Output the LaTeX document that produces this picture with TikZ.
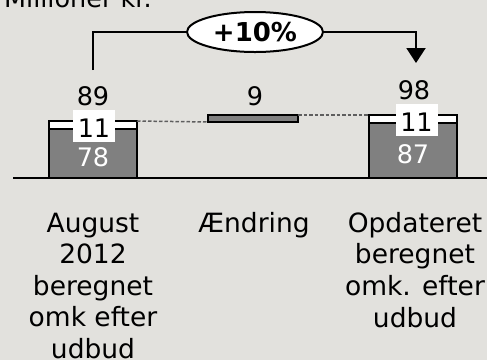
\documentclass[tikz,border=0pt]{standalone}
\usepackage{fontspec}
\setmainfont{DejaVu Sans}
\usetikzlibrary{arrows.meta,shapes.geometric}
\definecolor{bg}{HTML}{E2E1DD}
\definecolor{barg}{HTML}{808080}
\definecolor{dashg}{HTML}{5E5E5E}
\tikzset{
  lbl/.style={font=\fontsize{26.5}{31.6}\selectfont, inner sep=0pt, anchor=base, align=center},
  num/.style={font=\fontsize{25.5}{30}\selectfont, inner sep=0pt, anchor=base},
  barbox/.style={draw=black, line width=2pt, fill=barg, inner sep=0pt, outer sep=0pt},
  topbox/.style={draw=black, line width=2pt, fill=white, inner sep=0pt, outer sep=0pt},
  wlab/.style={fill=white, inner sep=0pt, minimum width=42, minimum height=32},
  conn/.style={line width=2pt, draw=black},
  dashln/.style={draw=dashg, line width=1.5pt, dash pattern=on 3.5pt off 2pt}
}
\begin{document}
\begin{tikzpicture}[x=1pt,y=-1pt]
\fill[bg] (0,0) rectangle (487,360);
\useasboundingbox (0,0) rectangle (487,360);
% title (cut off at top)
\node[num, anchor=base west] (title) at (4,7) {Millioner kr.};
% axis
\coordinate (ax1) at (13,178);
\coordinate (ax2) at (487,178);
\draw[line width=2pt] (ax1) -- (ax2);
% left bar
\node[barbox, minimum width=88, minimum height=49] (lg) at (93,153.5) {};
\node[topbox, minimum width=88, minimum height=8] (lw) at (93,125) {};
% middle bar
\node[barbox, minimum width=90, minimum height=7] (mid) at (253,118.5) {};
% right bar
\node[barbox, minimum width=88, minimum height=55] (rg) at (413,150.5) {};
\node[topbox, minimum width=88, minimum height=8] (rw) at (413,119) {};
% dashed connectors
\draw[dashln] (lw.north east) -- (mid.south west);
\draw[dashln] (mid.north east) -- (rw.north west);
% white label boxes
\node[wlab] (lb11) at (94,126) {};
\node[wlab] (rb11) at (416.5,120) {};
\node[num] (l11) at (94,137) {11};
\node[num] (r11) at (416.5,131) {11};
\node[num, text=white] (l78) at (93,166) {78};
\node[num, text=white] (r87) at (413,163) {87};
\node[num] (l89) at (93,105) {89};
\node[num] (m9) at (255,105) {9};
\node[num] (r98) at (414,99) {98};
% bracket with ellipse
\node[ellipse, draw=black, line width=2pt, fill=white, minimum width=136, minimum height=40, inner sep=0pt,
      font=\fontsize{26}{28}\bfseries\selectfont] (pct) at (255,32) {+10\%};
\coordinate (bs) at (93,70);
\coordinate (be) at (416,63);
\draw[conn] (bs) |- (pct.west);
\draw[conn, -{Triangle[width=19pt,length=15pt]}] (pct.east) -| (be);
% category labels (base anchor = last line)
\node[lbl] (c1) at (93,358.5) {August\\2012\\beregnet\\omk efter\\udbud};
\node[lbl] (c2) at (254,232) {Ændring};
\node[lbl] (c3) at (415,327) {Opdateret\\beregnet\\omk. efter\\udbud};
\end{tikzpicture}
\end{document}
